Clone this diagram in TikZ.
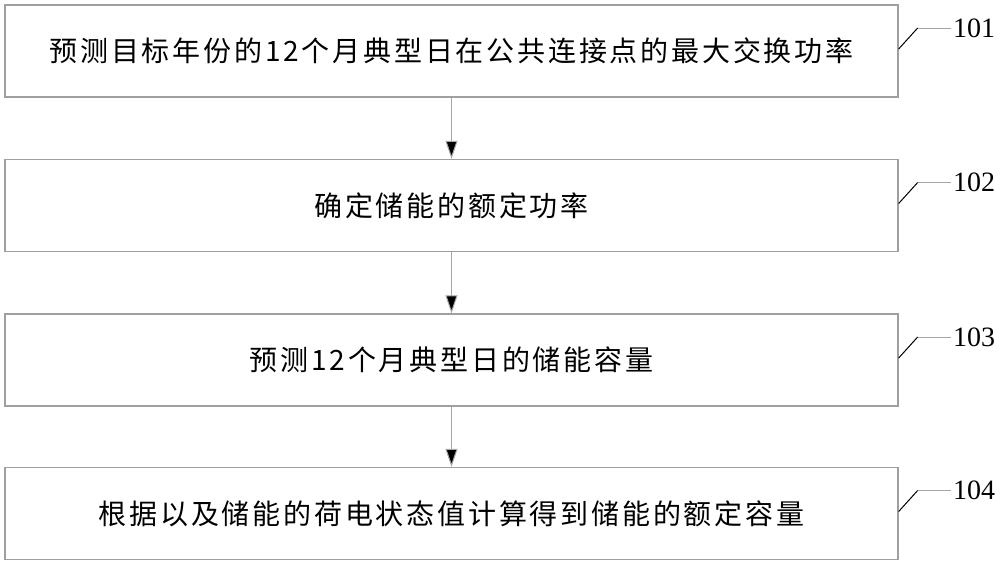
\documentclass[tikz,border=0pt]{standalone}
\usepackage{fontspec}
\setmainfont{Liberation Serif}
\newfontfamily\cjk[LetterSpace=10]{Noto Sans CJK SC}
\usetikzlibrary{arrows.meta}
\begin{document}
\begin{tikzpicture}[x=1pt,y=-1pt,
  box/.style={draw=gray!75, line width=1.3pt, minimum width=893pt, minimum height=92pt, inner sep=0pt, font=\cjk\fontsize{28}{30}\selectfont},
  flow/.style={draw=gray!70, line width=1pt, -{Triangle[length=18pt,width=12pt,fill=black]}},
  slant/.style={draw=black, line width=1pt},
  flat/.style={draw=gray!70, line width=1pt},
  num/.style={font=\fontsize{28}{30}\selectfont, anchor=west, inner xsep=2pt, inner ysep=0pt}]
\useasboundingbox (0,0) rectangle (1000,565);
\node[box] (b1) at (451.5,51) {预测目标年份的12个月典型日在公共连接点的最大交换功率};
\node[box] (b2) at (451.5,205.5) {确定储能的额定功率};
\node[box] (b3) at (451.5,360) {预测12个月典型日的储能容量};
\node[box] (b4) at (451.5,513.5) {根据以及储能的荷电状态值计算得到储能的额定容量};
\draw[flow] (b1.south) -- (b2.north);
\draw[flow] (b2.south) -- (b3.north);
\draw[flow] (b3.south) -- (b4.north);
\node[num] (n1) at (951,28) {101};
\node[num] (n2) at (951,182.5) {102};
\node[num] (n3) at (951,337) {103};
\node[num] (n4) at (951,490.5) {104};
\foreach \i in {1,2,3,4}{
  \draw[slant] (b\i.east) ++(0,-2) coordinate (s\i) -- ++(19,-21) coordinate (k\i);
  \draw[flat] (k\i) -- (n\i.west);
}
\end{tikzpicture}
\end{document}
